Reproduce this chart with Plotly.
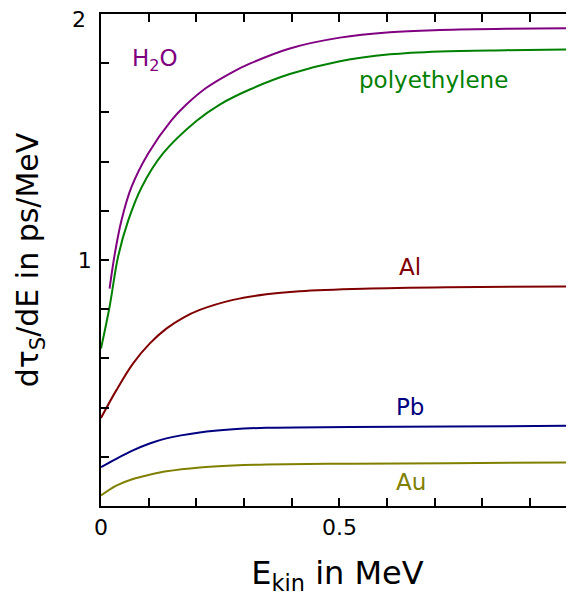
import plotly.graph_objects as go

# ---- data ----
h2o_x = [0.018, 0.029, 0.043, 0.064, 0.099, 0.148, 0.179, 0.221, 0.274, 0.312, 0.396, 0.501, 0.606, 0.711, 0.85, 1.0]
h2o_y = [0.884, 1.026, 1.162, 1.297, 1.433, 1.569, 1.632, 1.700, 1.762, 1.798, 1.860, 1.904, 1.926, 1.935, 1.940, 1.942]

pe_x = [0.0, 0.018, 0.036, 0.057, 0.085, 0.130, 0.200, 0.249, 0.312, 0.396, 0.501, 0.606, 0.711, 0.85, 1.0]
pe_y = [0.640, 0.810, 1.015, 1.160, 1.295, 1.433, 1.565, 1.632, 1.693, 1.756, 1.808, 1.836, 1.848, 1.853, 1.856]

al_x = [0.0, 0.032, 0.067, 0.102, 0.137, 0.172, 0.207, 0.277, 0.347, 0.417, 0.55, 0.73, 1.0]
al_y = [0.358, 0.470, 0.579, 0.660, 0.721, 0.765, 0.797, 0.838, 0.861, 0.873, 0.883, 0.889, 0.893]

pb_x = [0.0, 0.032, 0.067, 0.102, 0.137, 0.207, 0.277, 0.347, 0.522, 0.73, 1.0]
pb_y = [0.158, 0.192, 0.226, 0.254, 0.275, 0.299, 0.312, 0.318, 0.321, 0.3235, 0.326]

au_x = [0.0, 0.032, 0.067, 0.102, 0.137, 0.207, 0.277, 0.347, 0.522, 0.73, 1.0]
au_y = [0.043, 0.083, 0.110, 0.127, 0.141, 0.157, 0.165, 0.169, 0.172, 0.174, 0.177]

series_names = ["H<sub>2</sub>O", "polyethylene", "Al", "Pb", "Au"]
series_colors = ["#800080", "#008000", "#800000", "#000080", "#808000"]
# label anchor positions (data coords)
label_x = [0.113, 0.698, 0.648, 0.648, 0.650]
label_y = [1.815, 1.731, 0.970, 0.401, 0.096]

x_tickvals = [0, 0.5]
x_ticktext = ["0", "0.5"]
y_tickvals = [1]
y_ticktext = ["1"]
y_top_label = "2"
x_right_label = "1"
x_max = 0.992
y_range = [0, 2]

FONT = "DejaVu Sans"

fig = go.Figure()
for xs, ys, c, n in zip([h2o_x, pe_x, al_x, pb_x, au_x],
                        [h2o_y, pe_y, al_y, pb_y, au_y],
                        series_colors, series_names):
    fig.add_trace(go.Scatter(x=xs, y=ys, mode="lines", name=n,
                             line=dict(color=c, width=2, shape="spline", smoothing=1.0),
                             showlegend=False, hoverinfo="skip"))

for n, c, lx, ly in zip(series_names, series_colors, label_x, label_y):
    fig.add_annotation(x=lx, y=ly, xref="x", yref="y", text=n, showarrow=False,
                       font=dict(family=FONT, size=23, color=c),
                       xanchor="center", yanchor="middle")

# top y tick label "2" (drawn slightly below the top edge, as in the reference)
fig.add_annotation(x=0, y=y_range[1], xref="paper", yref="y", text=y_top_label,
                   showarrow=False, font=dict(family=FONT, size=22, color="black"),
                   xanchor="right", yanchor="middle", xshift=-13, yshift=-5)

# partially visible "1" tick label at x = 1 (beyond visible range)
fig.add_annotation(x=1.0 / x_max, y=0, xref="paper", yref="paper", text=x_right_label,
                   showarrow=False, font=dict(family=FONT, size=22, color="black"),
                   xanchor="center", yanchor="top", yshift=-10)

tick_common = dict(ticks="inside", ticklen=8, tickwidth=1.5, tickcolor="black")

fig.update_layout(
    width=566, height=588,
    margin=dict(l=93, r=0, t=6, b=90),
    paper_bgcolor="white", plot_bgcolor="white",
    font=dict(family=FONT, color="black"),
    xaxis=dict(range=[0, x_max], tickvals=x_tickvals, ticktext=x_ticktext,
               automargin=False,
               showgrid=False, zeroline=False, showline=True, linecolor="black",
               linewidth=1.5, mirror="ticks", ticklabelstandoff=1,
               tickfont=dict(size=22, family=FONT),
               minor=dict(dtick=0.1, tick0=0, ticks="inside", ticklen=8,
                          tickwidth=1.5, tickcolor="black", showgrid=False),
               title=dict(text="E<sub>kin</sub> in MeV", font=dict(size=32, family=FONT),
                          standoff=24),
               **tick_common),
    yaxis=dict(range=y_range, tickvals=y_tickvals, ticktext=y_ticktext,
               automargin=False,
               showgrid=False, zeroline=False, showline=True, linecolor="black",
               linewidth=1.5, ticklabelstandoff=3,
               tickfont=dict(size=22, family=FONT),
               minor=dict(dtick=0.2, tick0=0, ticks="inside", ticklen=8,
                          tickwidth=1.5, tickcolor="black", showgrid=False),
               title=dict(text="dτ<sub>S</sub>/dE in ps/MeV", font=dict(size=30, family=FONT),
                          standoff=30),
               **tick_common),
    yaxis2=dict(range=y_range, overlaying="y", side="right", tickvals=y_tickvals,
                automargin=False,
                showticklabels=False, showgrid=False, zeroline=False, showline=False,
                ticks="inside", ticklen=5, tickwidth=1.5, tickcolor="black",
                minor=dict(dtick=0.2, tick0=0, ticks="inside", ticklen=5,
                           tickwidth=1.5, tickcolor="black", showgrid=False)),
)
# invisible trace to keep yaxis2 present
fig.add_trace(go.Scatter(x=[0], y=[0], yaxis="y2", mode="markers",
                         marker=dict(opacity=0), showlegend=False, hoverinfo="skip"))

fig.write_html("out.html")
